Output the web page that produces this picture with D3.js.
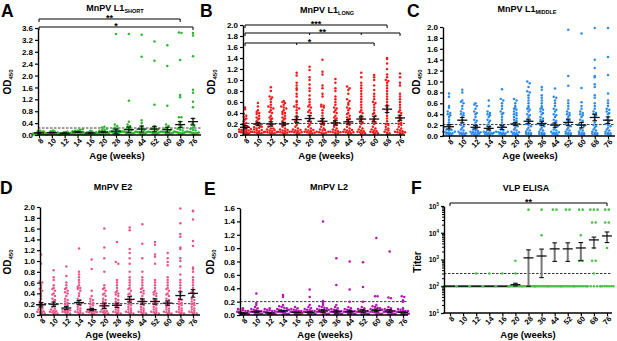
<!DOCTYPE html>
<meta charset="utf-8">
<style>
  body { margin: 0; background: #fff; }
  svg { font-family: "Liberation Sans", Arial, sans-serif; font-weight: bold; }
</style>
<body>
<script src="https://d3js.org/d3.v7.min.js"></script>
<script>
// ---- data ----
var ages = ["8", "10", "12", "14", "16", "20", "28", "36", "44", "52", "60", "68", "76"];

var ticks20 = [0, 0.2, 0.4, 0.6, 0.8, 1.0, 1.2, 1.4, 1.6, 1.8, 2.0];
var ticks36 = [0, 0.4, 0.8, 1.2, 1.6, 2.0, 2.4, 2.8, 3.2, 3.6];
var ticks16 = [0, 0.2, 0.4, 0.6, 0.8, 1.0, 1.2, 1.4, 1.6];
var ticksLog = [10, 100, 1000, 10000, 100000];

// A: MnPV L1 short
var l1ShortVals = [
  [.02,.03,.04,.05,.05,.06,.06,.07,.08,.08,.09,.10,.10,.11,.12,.13,.14,.04,.03,.07],
  [.02,.03,.04,.04,.05,.06,.07,.07,.08,.09,.10,.10,.11,.12,.13,.15,.05,.06,.03,.08],
  [.02,.02,.03,.04,.04,.05,.05,.06,.07,.07,.08,.08,.09,.10,.11,.03,.06,.05,.04,.07],
  [.02,.03,.04,.05,.06,.07,.08,.09,.10,.11,.12,.13,.14,.15,.17,.19,.06,.08,.05,.10],
  [.02,.03,.04,.04,.05,.06,.07,.08,.08,.09,.10,.11,.12,.14,.05,.06,.03,.07,.09,.04],
  [.02,.03,.04,.05,.06,.07,.08,.09,.10,.11,.12,.14,.16,.18,.21,.25,.28,.06,.08,.05],
  [3.4,.35,.30,.25,.22,.20,.18,.15,.12,.10,.09,.08,.07,.06,.05,.04,.03,.02,.06,.08,.10,.12],
  [3.4,1.15,.45,.35,.30,.27,.22,.20,.18,.15,.12,.10,.09,.08,.07,.06,.05,.04,.03,.02,.06,.08],
  [3.37,2.63,.50,.40,.30,.25,.20,.18,.15,.12,.10,.09,.08,.07,.06,.05,.04,.03,.06,.08,.10],
  [3.15,2.50,1.02,.30,.25,.22,.20,.18,.15,.12,.10,.09,.08,.07,.06,.05,.04,.03,.06,.08,.10],
  [3.02,2.32,.98,.35,.30,.25,.20,.18,.15,.12,.10,.09,.08,.07,.06,.05,.04,.03,.06,.08],
  [3.45,3.43,2.52,1.35,1.27,.60,.60,.45,.35,.30,.25,.20,.18,.15,.12,.10,.09,.08,.07,.06,.05,.04,.03,.06,.08,.10],
  [3.43,3.35,2.65,1.52,1.42,1.12,.93,.55,.40,.35,.30,.25,.20,.18,.15,.12,.10,.09,.08,.07,.06,.05,.04,.06,.08]
];
var l1ShortMean = [.07, .08, .06, .10, .07, .10, .13, .18, .20, .20, .18, .35, .45];
var l1ShortSem = [.01, .01, .01, .01, .01, .02, .07, .09, .10, .09, .08, .10, .11];

// B: MnPV L1 long
var l1LongVals = [
  [.50,.47,.38,.35,.33,.30,.28,.25,.22,.20,.18,.16,.14,.12,.10,.09,.08,.07,.06,.05,.05,.04,.04,.03,.03,.02,.02,.06,.08,.11],
  [.58,.52,.45,.42,.40,.38,.35,.32,.30,.28,.25,.22,.20,.18,.16,.14,.12,.10,.08,.07,.06,.05,.04,.03,.03,.02,.05,.09,.13,.15],
  [.87,.80,.70,.68,.65,.60,.55,.52,.50,.48,.45,.42,.40,.35,.32,.30,.28,.25,.20,.18,.15,.12,.10,.08,.06,.05,.04,.03,.02,.03,.05,.07,.09,.12],
  [.62,.60,.58,.55,.52,.50,.48,.45,.42,.40,.38,.35,.32,.30,.28,.25,.22,.20,.18,.15,.12,.10,.08,.07,.06,.05,.04,.03,.02,.04,.06,.09],
  [1.13,1.08,.95,.90,.85,.82,.75,.70,.62,.60,.55,.52,.50,.48,.45,.40,.35,.30,.28,.25,.22,.18,.15,.12,.10,.08,.06,.05,.04,.03,.02,.05,.07,.09],
  [1.24,1.18,1.05,1.00,.92,.85,.80,.72,.65,.60,.55,.52,.50,.45,.42,.40,.35,.30,.28,.25,.22,.18,.15,.12,.10,.08,.06,.05,.04,.03,.02,.04,.07,.09],
  [1.37,1.15,1.10,.90,.85,.75,.70,.55,.53,.52,.50,.45,.40,.35,.30,.28,.25,.22,.20,.18,.15,.12,.10,.08,.06,.05,.04,.03,.02,.04,.06,.09],
  [1.02,.95,.85,.80,.70,.65,.60,.55,.50,.48,.45,.42,.40,.35,.32,.30,.28,.25,.22,.20,.18,.15,.12,.10,.08,.06,.05,.04,.03,.02,.05,.07],
  [.88,.85,.82,.75,.65,.62,.58,.55,.50,.48,.45,.40,.38,.35,.32,.30,.28,.25,.22,.20,.18,.15,.12,.10,.08,.06,.05,.04,.03,.02,.05,.07,.09],
  [1.13,1.05,.95,.90,.85,.80,.75,.70,.65,.60,.55,.50,.45,.42,.40,.35,.32,.30,.28,.25,.22,.20,.15,.12,.10,.08,.06,.05,.04,.03,.02,.07],
  [1.09,1.05,1.00,.90,.82,.75,.70,.65,.60,.58,.55,.50,.45,.40,.38,.35,.30,.28,.25,.22,.20,.15,.12,.10,.08,.06,.05,.04,.03,.02,.07],
  [1.40,1.38,1.30,1.20,1.10,1.05,1.00,.98,.95,.90,.85,.80,.75,.70,.65,.60,.55,.50,.45,.40,.35,.30,.25,.20,.18,.15,.12,.10,.08,.06,.04,.03,.02],
  [1.12,1.05,.95,.90,.75,.70,.65,.60,.55,.50,.45,.42,.40,.35,.32,.30,.28,.25,.22,.20,.18,.15,.12,.10,.08,.06,.05,.04,.03,.02,.05,.07]
];
var l1LongMean = [.14, .20, .20, .20, .28, .30, .25, .22, .24, .29, .29, .47, .31];
var l1LongSem = [.03, .03, .04, .03, .05, .05, .05, .04, .04, .05, .05, .06, .05];

// C: MnPV L1 middle
var l1MiddleVals = [
  [.78,.72,.55,.52,.45,.42,.40,.38,.35,.30,.25,.20,.18,.15,.12,.10,.08,.07,.06,.05,.04,.03,.02,.05,.08,.11],
  [.85,.80,.65,.63,.60,.55,.50,.45,.42,.40,.38,.35,.30,.25,.20,.18,.15,.12,.10,.08,.06,.05,.04,.03,.02,.05],
  [.60,.58,.55,.50,.45,.42,.40,.35,.30,.28,.25,.20,.18,.15,.12,.10,.08,.07,.06,.05,.04,.03,.02,.04,.07,.09],
  [.65,.55,.45,.42,.40,.38,.35,.30,.28,.25,.20,.18,.15,.12,.10,.08,.07,.06,.05,.04,.03,.02,.04,.06],
  [.86,.68,.65,.60,.55,.50,.45,.42,.40,.35,.30,.25,.20,.18,.15,.12,.10,.08,.07,.06,.05,.04,.03,.02,.05,.08],
  [.68,.65,.60,.55,.52,.50,.48,.45,.42,.40,.38,.35,.32,.30,.28,.25,.22,.20,.18,.15,.12,.10,.08,.06,.05,.04,.03,.02,.07],
  [1.00,.97,.90,.82,.80,.75,.70,.65,.60,.55,.52,.50,.48,.45,.40,.38,.35,.30,.28,.25,.22,.20,.18,.15,.12,.10,.08,.06,.05,.04,.03,.02],
  [.90,.85,.75,.70,.65,.60,.55,.52,.50,.48,.45,.42,.40,.35,.32,.30,.28,.25,.22,.20,.18,.15,.12,.10,.08,.06,.05,.04,.03,.02],
  [.87,.72,.70,.65,.60,.55,.50,.48,.45,.40,.38,.35,.30,.28,.25,.22,.20,.18,.15,.12,.10,.08,.06,.05,.04,.03,.02,.07],
  [1.95,1.10,.92,.65,.60,.55,.50,.45,.42,.40,.38,.35,.30,.28,.25,.22,.20,.18,.15,.12,.10,.08,.06,.05,.04,.03,.02],
  [1.88,.88,.62,.55,.50,.45,.42,.40,.38,.35,.30,.28,.25,.22,.20,.18,.15,.12,.10,.08,.06,.05,.04,.03,.02],
  [1.98,1.40,1.25,1.10,1.08,.95,.90,.75,.70,.60,.55,.50,.45,.42,.40,.38,.35,.30,.25,.20,.18,.15,.12,.10,.08,.06,.05,.04,.03,.02],
  [1.98,1.45,1.12,.78,.65,.60,.55,.50,.48,.45,.42,.40,.35,.30,.28,.25,.22,.20,.18,.15,.12,.10,.08,.06,.05,.04,.03,.02]
];
var l1MiddleMean = [.17, .29, .16, .14, .16, .22, .27, .23, .20, .25, .20, .34, .29];
var l1MiddleSem = [.04, .05, .03, .03, .04, .03, .04, .04, .04, .06, .05, .06, .06];

// D: MnPV E2
var e2Vals = [
  [1.12,.95,.62,.60,.55,.50,.48,.45,.40,.35,.30,.25,.22,.20,.18,.15,.12,.10,.08,.06,.05,.04,.03,.02,.07],
  [.83,.70,.65,.55,.50,.48,.45,.40,.38,.35,.30,.28,.25,.20,.18,.15,.12,.10,.08,.06,.05,.04,.03,.02,.07],
  [.90,.72,.60,.55,.50,.48,.45,.42,.40,.35,.30,.28,.25,.22,.20,.18,.15,.12,.10,.08,.06,.05,.04,.03,.02,.07,.09],
  [1.23,.80,.75,.70,.65,.60,.55,.52,.50,.48,.45,.40,.35,.30,.28,.25,.22,.20,.18,.15,.12,.10,.08,.06,.05,.04,.03,.02],
  [1.03,.85,.45,.35,.30,.28,.25,.22,.20,.18,.15,.12,.10,.08,.07,.06,.05,.04,.03,.02,.05,.07],
  [1.60,1.25,1.05,.80,.55,.50,.48,.45,.40,.38,.35,.30,.28,.25,.22,.20,.18,.15,.12,.10,.08,.06,.05,.04,.03,.02,.07],
  [1.35,.98,.95,.65,.60,.55,.50,.45,.42,.40,.38,.35,.30,.28,.25,.22,.20,.18,.15,.12,.10,.08,.06,.05,.04,.03,.02],
  [1.62,1.57,1.22,1.15,1.05,.95,.80,.70,.65,.60,.55,.50,.48,.45,.40,.38,.35,.30,.28,.25,.22,.20,.18,.15,.12,.10,.08,.06,.05,.04,.03,.02],
  [1.68,1.32,1.05,.80,.70,.65,.60,.55,.50,.48,.45,.42,.40,.35,.30,.28,.25,.22,.20,.18,.15,.12,.10,.08,.06,.05,.04,.03,.02],
  [1.35,1.30,1.12,1.08,.95,.65,.60,.55,.50,.45,.42,.40,.38,.35,.30,.28,.25,.22,.20,.18,.15,.12,.10,.08,.06,.05,.04,.03,.02],
  [1.15,1.05,.98,.92,.70,.65,.60,.55,.50,.48,.45,.40,.38,.35,.30,.28,.25,.22,.20,.18,.15,.12,.10,.08,.06,.05,.04,.03,.02],
  [1.97,1.70,1.50,1.45,1.25,1.22,1.05,1.00,.90,.75,.65,.60,.55,.50,.45,.40,.35,.30,.28,.25,.22,.20,.18,.15,.12,.10,.08,.06,.05,.04,.03,.02],
  [1.93,1.92,1.77,1.37,1.28,.88,.85,.80,.70,.65,.60,.55,.50,.45,.42,.40,.35,.30,.28,.25,.22,.20,.18,.15,.12,.10,.08,.06,.05,.04,.03,.02]
];
var e2Mean = [.19, .20, .13, .23, .10, .17, .18, .29, .25, .25, .22, .36, .40];
var e2Sem = [.04, .04, .03, .04, .02, .05, .04, .05, .05, .05, .04, .07, .07];

// E: MnPV L2
var l2Vals = [
  [.10,.09,.08,.07,.06,.05,.05,.04,.04,.03,.03,.02,.02,.01,.01,.06,.03,.02],
  [.32,.18,.15,.12,.10,.09,.08,.07,.06,.05,.05,.04,.04,.03,.03,.02,.02,.01,.01,.06],
  [.10,.09,.08,.07,.06,.05,.05,.04,.04,.03,.03,.02,.02,.01,.01,.06,.03,.02],
  [.30,.27,.15,.13,.12,.11,.10,.09,.08,.07,.06,.06,.05,.05,.04,.04,.03,.02,.02,.01,.07,.08],
  [.12,.10,.09,.08,.07,.06,.05,.05,.04,.04,.03,.03,.02,.02,.01,.01,.06,.03],
  [.38,.27,.15,.12,.10,.09,.08,.07,.06,.05,.05,.04,.04,.03,.03,.02,.02,.01,.01,.06],
  [1.40,.21,.18,.15,.13,.12,.11,.10,.09,.08,.07,.06,.05,.05,.04,.04,.03,.02,.02,.01,.07,.08],
  [.85,.45,.15,.12,.10,.09,.08,.07,.06,.05,.05,.04,.04,.03,.03,.02,.02,.01,.01,.06],
  [.80,.38,.20,.12,.10,.09,.08,.07,.06,.05,.05,.04,.04,.03,.03,.02,.02,.01,.01,.06],
  [.79,.42,.20,.12,.10,.09,.08,.07,.06,.05,.05,.04,.04,.03,.03,.02,.02,.01,.01,.06],
  [1.15,.28,.28,.15,.13,.12,.11,.10,.09,.08,.07,.06,.05,.05,.04,.04,.03,.02,.02,.01,.07,.08],
  [.95,.26,.25,.12,.10,.09,.08,.07,.06,.05,.05,.04,.04,.03,.03,.02,.02,.01,.01,.06],
  [.28,.27,.22,.20,.10,.09,.08,.07,.06,.05,.05,.04,.04,.03,.03,.02,.02,.01,.01,.06]
];
var l2Mean = [.03, .05, .03, .06, .04, .04, .06, .05, .05, .06, .07, .06, .04];
var l2Sem = [.005, .01, .005, .01, .005, .01, .02, .02, .02, .02, .02, .02, .01];

// F: VLP ELISA titers
var vlpVals = [
  [100,100,100,100,100,100,100,100,100,100,100,100],
  [100,100,100,100,100,100,100,100,100,100,100,100],
  [300,100,100,100,100,100,100,100,100,100,100,100],
  [300,100,100,100,100,100,100,100,100,100,100,100],
  [300,100,100,100,100,100,100,100,100,100,100,100],
  [900,300,100,100,100,100,100,100,100,100,100,100],
  [72900,100,100,100,100,100,100,100,100,100,100],
  [72900,8100,100,100,100,100,100,100,100,100,100,100],
  [72900,72900,100,100,100,100,100,100,100,100,100,100],
  [72900,72900,100,100,100,100,100,100,100,100,100,100],
  [72900,72900,8100,900,900,100,100,100,100,100,100,100,100],
  [72900,72900,72900,24300,24300,2700,900,900,300,100,100,100,100,100],
  [72900,72900,24300,24300,2700,100,100,100,100,100,100,100]
];
var vlpMean = [100, 100, 100, 100, 100, 115, 1150, 1350, 2500, 2500, 2700, 5400, 7600];
var vlpLow = [100, 100, 100, 100, 100, 103, 100, 210, 850, 850, 900, 2700, 4300];
var vlpHigh = [100, 100, 100, 100, 100, 130, 2300, 2450, 4200, 4200, 4300, 6900, 10700];

var cutoffs = [0.235, 0.21, 0.21, 0.21, 0.2, 300];

// significance brackets: [panel, from, to, label, inner ticks]
var brackets = [
  ["A", "8", "68", "**", []],
  ["A", "8", "76", "*", []],
  ["B", "8", "68", "***", []],
  ["B", "8", "76", "**", ["20", "52"]],
  ["B", "8", "60", "*", ["16"]],
  ["F", "8", "76", "**", []]
];

// ---- layout ----
var panels = [
  {id: "A", vals: l1ShortVals, mean: l1ShortMean, sem: l1ShortSem, color: "#2fb52f", cut: cutoffs[0],
   ax: 38, axEnd: 201, xr: [39, 193], y0: 135, y1: 28, dom: [0, 3.6], ticks: ticks36,
   title: "MnPV L1", sub: "SHORT", tx: 115, ty: 11, lx: 1, ly: 16.5, yl: [11, 82], xl: [117, 159],
   brY: {"**": 19, "*": 27}},
  {id: "B", vals: l1LongVals, mean: l1LongMean, sem: l1LongSem, color: "#ec1c1c", cut: cutoffs[1],
   ax: 243, axEnd: 405, xr: [245, 400], y0: 135, y1: 25, dom: [0, 2], ticks: ticks20,
   title: "MnPV L1", sub: "LONG", tx: 327, ty: 13, lx: 200, ly: 16.5, yl: [215, 82], xl: [326, 159],
   brY: {"***": 25, "**": 33, "*": 43}},
  {id: "C", vals: l1MiddleVals, mean: l1MiddleMean, sem: l1MiddleSem, color: "#2a8be8", cut: cutoffs[2],
   ax: 443, axEnd: 615, xr: [449, 608], y0: 136, y1: 27, dom: [0, 2], ticks: ticks20,
   title: "MnPV L1", sub: "MIDDLE", tx: 527, ty: 12, lx: 407, ly: 16.5, yl: [420, 82], xl: [530, 159]},
  {id: "D", vals: e2Vals, mean: e2Mean, sem: e2Sem, color: "#e8578c", cut: cutoffs[3],
   ax: 40, axEnd: 200, xr: [41, 193], y0: 315, y1: 207, dom: [0, 2], ticks: ticks20,
   title: "MnPV E2", sub: "", tx: 113, ty: 190, lx: 0, ly: 194, yl: [11, 262], xl: [113, 338]},
  {id: "E", vals: l2Vals, mean: l2Mean, sem: l2Sem, color: "#b314b3", cut: cutoffs[4],
   ax: 240, axEnd: 408, xr: [243, 403], y0: 315, y1: 208, dom: [0, 1.6], ticks: ticks16,
   title: "MnPV L2", sub: "", tx: 329, ty: 190, lx: 204, ly: 195, yl: [214, 262], xl: [325, 338]},
  {id: "F", vals: vlpVals, mean: vlpMean, low: vlpLow, high: vlpHigh, color: "#4cbf4c", cut: cutoffs[5],
   ax: 444, axEnd: 612, xr: [450, 607], y0: 313, y1: 206, log: true, ticks: ticksLog,
   title: "VLP ELISA", sub: "", tx: 526, ty: 191, lx: 411, ly: 194, yl: [421, 262], xl: [528, 338],
   brY: {"**": 203}}
];

var svg = d3.select("body").append("svg")
    .attr("width", 617)
    .attr("height", 341);

// simple row-based swarm: points in the same pixel row spread out centred on the group
function swarm(vals, y, d, maxHalf) {
  var rows = d3.group(d3.range(vals.length), function(i) { return Math.round(y(vals[i]) / d); });
  var xs = new Array(vals.length);
  rows.forEach(function(idx) {
    var n = idx.length;
    var s = n > 1 ? Math.min(d, 2 * maxHalf / (n - 1)) : 0;
    idx.forEach(function(i, j) { xs[i] = (j - (n - 1) / 2) * s; });
  });
  return xs;
}

panels.forEach(function(p) {
  var x = d3.scalePoint().domain(ages).range(p.xr);
  var y = p.log
    ? d3.scaleLog().domain([10, 100000]).range([p.y0, p.y1])
    : d3.scaleLinear().domain(p.dom).range([p.y0, p.y1]);
  var g = svg.append("g");

  // cut-off line
  g.append("line")
      .attr("x1", p.ax).attr("x2", p.axEnd)
      .attr("y1", y(p.cut)).attr("y2", y(p.cut))
      .attr("stroke", "#222").attr("stroke-width", 0.9)
      .attr("stroke-dasharray", "2.5,1.5");

  // dots
  var dd = p.log ? 3.6 : 2.5;
  p.vals.forEach(function(vs, i) {
    var xs = swarm(vs, y, dd, p.log ? 6.5 : 5.8);
    g.selectAll(null)
      .data(vs.map(function(v, j) { return {v: v, dx: xs[j]}; }))
      .enter().append("circle")
        .attr("cx", function(d) { return x(ages[i]) + d.dx; })
        .attr("cy", function(d) { return y(d.v); })
        .attr("r", p.log ? 1.3 : 1.25)
        .attr("fill", p.color);
  });

  // mean and error bars
  p.mean.forEach(function(m, i) {
    var cx = x(ages[i]);
    var lo = p.log ? p.low[i] : m - p.sem[i];
    var hi = p.log ? p.high[i] : m + p.sem[i];
    if (hi > lo) {
      g.append("line")
          .attr("x1", cx).attr("x2", cx)
          .attr("y1", y(lo)).attr("y2", y(hi))
          .attr("stroke", p.log ? "#777" : "#111")
          .attr("stroke-width", p.log ? 2 : 1.1);
      [lo, hi].forEach(function(v) {
        g.append("line")
            .attr("x1", cx - 2.3).attr("x2", cx + 2.3)
            .attr("y1", y(v)).attr("y2", y(v))
            .attr("stroke", "#111").attr("stroke-width", 1.1);
      });
    }
    g.append("line")
        .attr("x1", cx - 5).attr("x2", cx + 5)
        .attr("y1", y(m)).attr("y2", y(m))
        .attr("stroke", "#111").attr("stroke-width", 1.3);
  });

  // y axis
  var yAx = d3.axisLeft(y).tickValues(p.ticks).tickSize(3).tickSizeOuter(0).tickPadding(2);
  if (!p.log) yAx.tickFormat(d3.format(".1f"));
  var ga = svg.append("g")
      .attr("transform", "translate(" + p.ax + ",0)")
      .call(yAx)
      .attr("font-family", null).attr("font-size", 8);
  ga.select(".domain").attr("stroke-width", 1.4);
  ga.selectAll(".tick line").attr("stroke-width", 1.2);
  if (p.log) {
    ga.selectAll(".tick text").attr("font-size", 7).each(function(d) {
      var t = d3.select(this).text("10");
      t.append("tspan").attr("font-size", 4.5).attr("dy", -3).text(Math.round(Math.log10(d)));
    });
    var minors = [];
    [10, 100, 1000, 10000].forEach(function(b) {
      for (var k = 2; k <= 9; k++) minors.push(b * k);
    });
    svg.append("g")
        .attr("transform", "translate(" + p.ax + ",0)")
        .call(d3.axisLeft(y).tickValues(minors).tickSize(2).tickFormat(""))
        .call(function(s) { s.select(".domain").remove(); });
  }

  // x axis
  svg.append("line")
      .attr("x1", p.ax - 0.7).attr("x2", p.axEnd)
      .attr("y1", p.y0).attr("y2", p.y0)
      .attr("stroke", "#000").attr("stroke-width", 1.4);
  var gx = svg.append("g")
      .attr("transform", "translate(0," + p.y0 + ")")
      .call(d3.axisBottom(x).tickSize(3).tickSizeOuter(0))
      .attr("font-family", null).attr("font-size", 7.5);
  gx.select(".domain").remove();
  gx.selectAll(".tick line").attr("stroke-width", 1.2);
  gx.selectAll(".tick text")
      .attr("x", 0).attr("y", 0).attr("dy", "0.35em")
      .attr("transform", "translate(2.5,4.5) rotate(-45)")
      .style("text-anchor", "end");

  // labels
  var tt = svg.append("text")
      .attr("x", p.tx).attr("y", p.ty)
      .attr("text-anchor", "middle").attr("font-size", 9)
      .text(p.title);
  if (p.sub) tt.append("tspan").attr("font-size", 5.5).attr("dy", 2).text(p.sub);

  svg.append("text")
      .attr("x", p.lx).attr("y", p.ly)
      .attr("font-size", 17.5)
      .text(p.id);

  var yl = svg.append("text")
      .attr("transform", "translate(" + p.yl[0] + "," + p.yl[1] + ") rotate(-90)")
      .attr("text-anchor", "middle").attr("font-size", 10)
      .text(p.log ? "Titer" : "OD");
  if (!p.log) yl.append("tspan").attr("font-size", 6).attr("dy", 2).text("450");

  svg.append("text")
      .attr("x", p.xl[0]).attr("y", p.xl[1])
      .attr("text-anchor", "middle").attr("font-size", 9.5)
      .text("Age (weeks)");

  // brackets
  brackets.filter(function(b) { return b[0] === p.id; }).forEach(function(b) {
    var by = p.brY[b[3]];
    var xa = x(b[1]), xb = x(b[2]);
    svg.append("path")
        .attr("d", "M" + xa + "," + (by + 3) + "V" + by + "H" + xb + "V" + (by + 3))
        .attr("fill", "none").attr("stroke", "#000").attr("stroke-width", 1);
    b[4].forEach(function(a) {
      svg.append("line")
          .attr("x1", x(a)).attr("x2", x(a))
          .attr("y1", by).attr("y2", by + 2)
          .attr("stroke", "#000").attr("stroke-width", 1);
    });
    svg.append("text")
        .attr("x", (xa + xb) / 2).attr("y", by + 1.5)
        .attr("text-anchor", "middle").attr("font-size", 9)
        .text(b[3]);
  });
});
</script>
</body>
</html>
